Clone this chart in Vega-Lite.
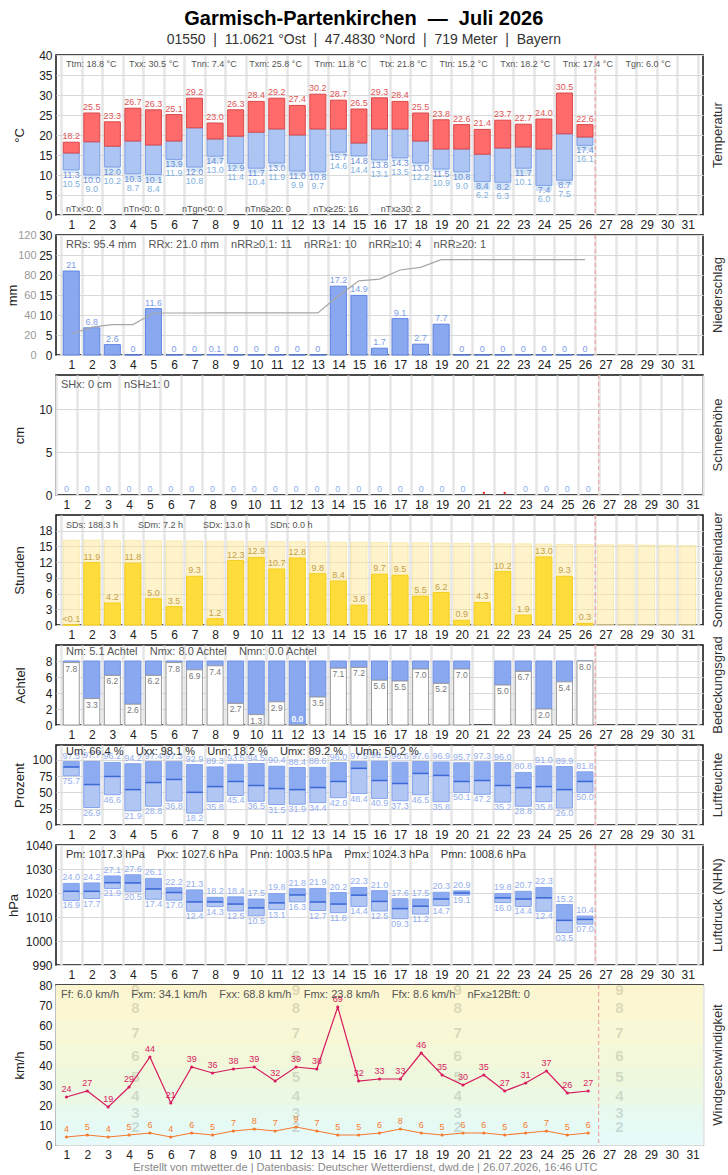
{
  "$schema": "https://vega.github.io/schema/vega-lite/v6.json",
  "background": "white",
  "padding": {"left": 5, "right": 25, "top": 9, "bottom": 5},
  "config": {
    "font": "Liberation Sans",
    "view": {"stroke": "#111", "strokeWidth": 1.5},
    "axis": {"labelFont": "Liberation Sans", "labelFontSize": 12, "labelColor": "#222", "titleFont": "Liberation Sans", "titleFontSize": 13, "titleFontWeight": "normal", "titleColor": "#222", "domain": false, "ticks": false, "labelPadding": 4, "gridColor": "#d9d9d9"},
    "concat": {"spacing": 20},
    "text": {"font": "Liberation Sans"}
  },
  "title": {
    "text": "Garmisch-Partenkirchen\u00a0 —\u00a0 Juli 2026",
    "subtitle": "01550\u00a0 |\u00a0 11.0621 °Ost\u00a0 |\u00a0 47.4830 °Nord\u00a0 |\u00a0 719 Meter\u00a0 |\u00a0 Bayern",
    "font": "Liberation Sans",
    "fontSize": 20, "fontWeight": "bold", "color": "#000",
    "subtitleFont": "Liberation Sans",
    "subtitleFontSize": 14, "subtitleColor": "#333", "subtitlePadding": 4,
    "anchor": "middle", "offset": 1, "dx": -2
  },
  "datasets": {
    "days": [
      {"d": 1, "tx": 18.2, "tm": 15.5, "tn": 11.3, "tgn": 10.5, "rr": 21.0, "rrsum": 21.0, "sh": 0, "sd": 0.0, "n": 7.8, "uxx": 97.5, "um": 89.2, "unn": 75.7, "pxx": 1024.0, "pm": 1020.7, "pnn": 1016.9, "fx": 24, "ff": 4},
      {"d": 2, "tx": 25.5, "tm": 18.3, "tn": 10.0, "tgn": 9.0, "rr": 6.8, "rrsum": 27.8, "sh": 0, "sd": 11.9, "n": 3.3, "uxx": 97.7, "um": 62.2, "unn": 26.9, "pxx": 1024.2, "pm": 1020.7, "pnn": 1017.7, "fx": 27, "ff": 5},
      {"d": 3, "tx": 23.3, "tm": 17.2, "tn": 12.0, "tgn": 10.2, "rr": 2.6, "rrsum": 30.4, "sh": 0, "sd": 4.2, "n": 6.2, "uxx": 96.2, "um": 74.6, "unn": 46.6, "pxx": 1027.1, "pm": 1024.3, "pnn": 1021.9, "fx": 19, "ff": 4},
      {"d": 4, "tx": 26.7, "tm": 18.5, "tn": 10.3, "tgn": 8.7, "rr": 0, "rrsum": 30.4, "sh": 0, "sd": 11.8, "n": 2.6, "uxx": 94.2, "um": 54.4, "unn": 21.9, "pxx": 1027.6, "pm": 1024.2, "pnn": 1020.5, "fx": 29, "ff": 5},
      {"d": 5, "tx": 26.3, "tm": 17.5, "tn": 10.1, "tgn": 8.4, "rr": 11.6, "rrsum": 42.0, "sh": 0, "sd": 5.0, "n": 6.2, "uxx": 97.4, "um": 65.3, "unn": 28.8, "pxx": 1026.1, "pm": 1021.7, "pnn": 1017.4, "fx": 44, "ff": 6},
      {"d": 6, "tx": 25.1, "tm": 18.5, "tn": 13.9, "tgn": 11.9, "rr": 0, "rrsum": 42.0, "sh": 0, "sd": 3.5, "n": 7.8, "uxx": 97.3, "um": 70.0, "unn": 36.8, "pxx": 1022.2, "pm": 1020.2, "pnn": 1017.0, "fx": 21, "ff": 4},
      {"d": 7, "tx": 29.2, "tm": 21.8, "tn": 12.0, "tgn": 10.8, "rr": 0, "rrsum": 42.0, "sh": 0, "sd": 9.3, "n": 6.9, "uxx": 92.9, "um": 50.2, "unn": 18.2, "pxx": 1021.3, "pm": 1016.3, "pnn": 1012.4, "fx": 39, "ff": 6},
      {"d": 8, "tx": 23.0, "tm": 19.0, "tn": 14.7, "tgn": 13.0, "rr": 0.1, "rrsum": 42.1, "sh": 0, "sd": 1.2, "n": 7.4, "uxx": 89.3, "um": 59.1, "unn": 35.8, "pxx": 1018.2, "pm": 1016.3, "pnn": 1014.3, "fx": 36, "ff": 5},
      {"d": 9, "tx": 26.3, "tm": 19.7, "tn": 12.9, "tgn": 11.4, "rr": 0, "rrsum": 42.1, "sh": 0, "sd": 12.3, "n": 2.7, "uxx": 93.5, "um": 66.9, "unn": 45.4, "pxx": 1018.4, "pm": 1015.4, "pnn": 1012.5, "fx": 38, "ff": 7},
      {"d": 10, "tx": 28.4, "tm": 20.7, "tn": 11.7, "tgn": 10.4, "rr": 0, "rrsum": 42.1, "sh": 0, "sd": 12.9, "n": 1.3, "uxx": 94.5, "um": 60.7, "unn": 36.5, "pxx": 1017.5, "pm": 1013.8, "pnn": 1010.5, "fx": 39, "ff": 8},
      {"d": 11, "tx": 29.2, "tm": 21.5, "tn": 13.0, "tgn": 11.9, "rr": 0, "rrsum": 42.1, "sh": 0, "sd": 10.7, "n": 2.9, "uxx": 90.4, "um": 56.0, "unn": 31.5, "pxx": 1019.8, "pm": 1015.9, "pnn": 1013.1, "fx": 32, "ff": 7},
      {"d": 12, "tx": 27.4, "tm": 20.0, "tn": 11.0, "tgn": 9.9, "rr": 0, "rrsum": 42.1, "sh": 0, "sd": 12.8, "n": 0.0, "uxx": 88.4, "um": 54.4, "unn": 31.9, "pxx": 1021.8, "pm": 1019.2, "pnn": 1016.3, "fx": 39, "ff": 9},
      {"d": 13, "tx": 30.2, "tm": 21.5, "tn": 10.8, "tgn": 9.7, "rr": 0, "rrsum": 42.1, "sh": 0, "sd": 9.8, "n": 3.5, "uxx": 88.6, "um": 57.5, "unn": 34.4, "pxx": 1021.9, "pm": 1016.3, "pnn": 1012.7, "fx": 38, "ff": 7},
      {"d": 14, "tx": 28.7, "tm": 21.5, "tn": 15.7, "tgn": 14.6, "rr": 17.2, "rrsum": 59.3, "sh": 0, "sd": 8.4, "n": 7.1, "uxx": 96.0, "um": 66.9, "unn": 42.0, "pxx": 1020.2, "pm": 1015.4, "pnn": 1011.8, "fx": 69, "ff": 5},
      {"d": 15, "tx": 26.5, "tm": 18.0, "tn": 14.8, "tgn": 14.4, "rr": 14.9, "rrsum": 74.2, "sh": 0, "sd": 3.8, "n": 7.2, "uxx": 97.5, "um": 87.1, "unn": 48.4, "pxx": 1022.3, "pm": 1019.1, "pnn": 1014.4, "fx": 32, "ff": 5},
      {"d": 16, "tx": 29.3, "tm": 21.5, "tn": 13.8, "tgn": 13.1, "rr": 1.7, "rrsum": 75.9, "sh": 0, "sd": 9.7, "n": 5.6, "uxx": 98.1, "um": 68.4, "unn": 40.9, "pxx": 1021.0, "pm": 1016.5, "pnn": 1012.5, "fx": 33, "ff": 6},
      {"d": 17, "tx": 28.4, "tm": 21.5, "tn": 14.3, "tgn": 13.5, "rr": 9.1, "rrsum": 85.0, "sh": 0, "sd": 9.5, "n": 5.5, "uxx": 96.6, "um": 63.8, "unn": 37.3, "pxx": 1017.6, "pm": 1013.5, "pnn": 1009.3, "fx": 33, "ff": 8},
      {"d": 18, "tx": 25.5, "tm": 18.5, "tn": 13.0, "tgn": 12.2, "rr": 2.7, "rrsum": 87.7, "sh": 0, "sd": 5.5, "n": 7.0, "uxx": 97.6, "um": 79.3, "unn": 46.5, "pxx": 1017.5, "pm": 1014.5, "pnn": 1011.2, "fx": 46, "ff": 6},
      {"d": 19, "tx": 23.8, "tm": 16.5, "tn": 11.5, "tgn": 10.9, "rr": 7.7, "rrsum": 95.4, "sh": 0, "sd": 6.2, "n": 5.2, "uxx": 96.9, "um": 76.2, "unn": 35.8, "pxx": 1020.3, "pm": 1017.5, "pnn": 1014.7, "fx": 35, "ff": 5},
      {"d": 20, "tx": 22.6, "tm": 16.5, "tn": 10.8, "tgn": 9.0, "rr": 0, "rrsum": 95.4, "sh": 0, "sd": 0.9, "n": 7.0, "uxx": 95.7, "um": 66.9, "unn": 50.1, "pxx": 1020.9, "pm": 1020.0, "pnn": 1019.1, "fx": 30, "ff": 6},
      {"d": 21, "tx": 21.4, "tm": 15.2, "tn": 8.4, "tgn": 6.2, "rr": 0, "rrsum": 95.4, "sh": null, "sd": 4.3, "n": null, "uxx": 97.3, "um": 68.4, "unn": 47.2, "pxx": null, "pm": null, "pnn": null, "fx": 35, "ff": 6},
      {"d": 22, "tx": 23.7, "tm": 16.75, "tn": 8.2, "tgn": 6.3, "rr": 0, "rrsum": 95.4, "sh": null, "sd": 10.2, "n": 5.0, "uxx": 96.0, "um": 60.7, "unn": 35.2, "pxx": 1019.8, "pm": 1018.0, "pnn": 1016.0, "fx": 27, "ff": 5},
      {"d": 23, "tx": 22.7, "tm": 17.0, "tn": 11.7, "tgn": 10.1, "rr": 0, "rrsum": 95.4, "sh": 0, "sd": 1.9, "n": 6.7, "uxx": 80.8, "um": 57.5, "unn": 28.8, "pxx": 1020.7, "pm": 1017.5, "pnn": 1014.4, "fx": 31, "ff": 6},
      {"d": 24, "tx": 24.0, "tm": 16.5, "tn": 7.4, "tgn": 6.0, "rr": 0, "rrsum": 95.4, "sh": 0, "sd": 13.0, "n": 2.0, "uxx": 91.0, "um": 59.1, "unn": 35.8, "pxx": 1022.3, "pm": 1018.0, "pnn": 1012.4, "fx": 37, "ff": 7},
      {"d": 25, "tx": 30.5, "tm": 20.3, "tn": 8.7, "tgn": 7.5, "rr": 0, "rrsum": 95.4, "sh": 0, "sd": 9.3, "n": 5.4, "uxx": 89.9, "um": 54.4, "unn": 26.0, "pxx": 1015.2, "pm": 1008.6, "pnn": 1003.5, "fx": 26, "ff": 5},
      {"d": 26, "tx": 22.6, "tm": 19.5, "tn": 17.4, "tgn": 16.1, "rr": 0, "rrsum": 95.4, "sh": 0, "sd": 0.3, "n": 8.0, "uxx": 81.8, "um": 66.9, "unn": 50.0, "pxx": 1010.4, "pm": 1009.0, "pnn": 1007.0, "fx": 27, "ff": 6}
    ],
    "sunmax": [
      {"d": 1, "smax": 16.2}, {"d": 2, "smax": 16.2}, {"d": 3, "smax": 16.15}, {"d": 4, "smax": 16.15}, {"d": 5, "smax": 16.1},
      {"d": 6, "smax": 16.05}, {"d": 7, "smax": 16.05}, {"d": 8, "smax": 16.0}, {"d": 9, "smax": 16.0}, {"d": 10, "smax": 15.95},
      {"d": 11, "smax": 15.9}, {"d": 12, "smax": 15.9}, {"d": 13, "smax": 15.85}, {"d": 14, "smax": 15.8}, {"d": 15, "smax": 15.8},
      {"d": 16, "smax": 15.75}, {"d": 17, "smax": 15.7}, {"d": 18, "smax": 15.7}, {"d": 19, "smax": 15.65}, {"d": 20, "smax": 15.6},
      {"d": 21, "smax": 15.55}, {"d": 22, "smax": 15.5}, {"d": 23, "smax": 15.5}, {"d": 24, "smax": 15.45}, {"d": 25, "smax": 15.4},
      {"d": 26, "smax": 15.35}, {"d": 27, "smax": 15.3}, {"d": 28, "smax": 15.3}, {"d": 29, "smax": 15.25}, {"d": 30, "smax": 15.2},
      {"d": 31, "smax": 15.15}
    ],
    "beaufort": [
      {"bft": 0, "lo": 0, "hi": 1, "shade": "#e6faf9"},
      {"bft": 1, "lo": 1, "hi": 6, "shade": "#e6faf9"},
      {"bft": 2, "lo": 6, "hi": 12, "shade": "#e6faf5"},
      {"bft": 3, "lo": 12, "hi": 20, "shade": "#e8faef"},
      {"bft": 4, "lo": 20, "hi": 29, "shade": "#ebf9e4"},
      {"bft": 5, "lo": 29, "hi": 39, "shade": "#eef8dd"},
      {"bft": 6, "lo": 39, "hi": 50, "shade": "#f2f8d9"},
      {"bft": 7, "lo": 50, "hi": 62, "shade": "#f8f8d6"},
      {"bft": 8, "lo": 62, "hi": 75, "shade": "#fbf7d3"},
      {"bft": 9, "lo": 75, "hi": 80, "shade": "#fcf6d0"}
    ]
  },
  "vconcat": [
    {
      "width": 647, "height": 160,
      "title": {"text": "Temperatur", "orient": "right", "angle": -90, "fontSize": 13, "fontWeight": "normal", "color": "#333", "offset": -4},
      "data": {"name": "days"},
      "encoding": {"x": {"field": "d", "type": "quantitative", "scale": {"domain": [0.5, 31.5], "nice": false, "zero": false}, "axis": {"title": null, "tickCount": 100, "labelOverlap": false, "labelFlush": false, "values": [0.5,1,1.5,2,2.5,3,3.5,4,4.5,5,5.5,6,6.5,7,7.5,8,8.5,9,9.5,10,10.5,11,11.5,12,12.5,13,13.5,14,14.5,15,15.5,16,16.5,17,17.5,18,18.5,19,19.5,20,20.5,21,21.5,22,22.5,23,23.5,24,24.5,25,25.5,26,26.5,27,27.5,28,28.5,29,29.5,30,30.5,31,31.5], "labelExpr": "datum.value % 1 === 0 ? '' + datum.value : ''", "gridColor": "#e6e6e6", "gridWidth": 2.5, "gridOpacity": {"condition": {"test": "datum.value % 1 === 0", "value": 0}, "value": 1}}}},
      "layer": [
        {"mark": {"type": "bar", "width": 16, "color": "#d3e5f6"},
         "encoding": {"y": {"field": "tgn", "type": "quantitative", "scale": {"domain": [0, 40], "nice": false, "zero": false}, "axis": {"title": "°C", "titlePadding": 12, "format": "d", "tickCount": 100, "labelOverlap": false, "values": [0,5,10,15,20,25,30,35,40]}}, "y2": {"field": "tn"}}},
        {"mark": {"type": "bar", "width": 16, "fill": "#adc5f3", "stroke": "#7d9ee6", "strokeWidth": 1},
         "encoding": {"y": {"field": "tn", "type": "quantitative"}, "y2": {"field": "tm"}}},
        {"mark": {"type": "bar", "width": 16, "fill": "#ff6b6b", "stroke": "#d94848", "strokeWidth": 1},
         "encoding": {"y": {"field": "tm", "type": "quantitative"}, "y2": {"field": "tx"}}},
        {"mark": {"type": "text", "fontSize": 9, "color": "#e05555", "baseline": "bottom", "dy": -1},
         "encoding": {"y": {"field": "tx", "type": "quantitative"}, "text": {"field": "tx", "format": ".1f"}}},
        {"mark": {"type": "text", "fontSize": 9, "color": "#6b8ed8", "baseline": "top", "dy": 1},
         "encoding": {"y": {"field": "tn", "type": "quantitative"}, "text": {"field": "tn", "format": ".1f"}}},
        {"mark": {"type": "text", "fontSize": 9, "color": "#7fb1e0", "baseline": "top", "dy": 10},
         "encoding": {"y": {"field": "tn", "type": "quantitative"}, "text": {"field": "tgn", "format": ".1f"}}},
        {"data": {"values": [{"label": "Ttm: 18.8 °C\u00a0\u00a0\u00a0\u00a0\u00a0Txx: 30.5 °C\u00a0\u00a0\u00a0\u00a0\u00a0Tnn: 7.4 °C\u00a0\u00a0\u00a0\u00a0\u00a0Txm: 25.8 °C\u00a0\u00a0\u00a0\u00a0\u00a0Tnm: 11.8 °C\u00a0\u00a0\u00a0\u00a0\u00a0Ttx: 21.8 °C\u00a0\u00a0\u00a0\u00a0\u00a0Ttn: 15.2 °C\u00a0\u00a0\u00a0\u00a0\u00a0Txn: 18.2 °C\u00a0\u00a0\u00a0\u00a0\u00a0Tnx: 17.4 °C\u00a0\u00a0\u00a0\u00a0\u00a0Tgn: 6.0 °C"}]},
         "transform": [{"calculate": "0.5", "as": "xp"}, {"calculate": "37.7", "as": "yp"}],
         "mark": {"type": "text", "fontSize": 9, "color": "#555", "align": "left", "baseline": "middle", "dx": 5},
         "encoding": {"x": {"field": "xp"}, "y": {"field": "yp", "type": "quantitative"}, "text": {"field": "label"}}},
        {"data": {"values": [{"label": "nTx<0: 0\u00a0\u00a0\u00a0\u00a0\u00a0\u00a0\u00a0\u00a0\u00a0nTn<0: 0\u00a0\u00a0\u00a0\u00a0\u00a0\u00a0\u00a0\u00a0\u00a0nTgn<0: 0\u00a0\u00a0\u00a0\u00a0\u00a0\u00a0\u00a0\u00a0\u00a0nTn6≥20: 0\u00a0\u00a0\u00a0\u00a0\u00a0\u00a0\u00a0\u00a0\u00a0nTx≥25: 16\u00a0\u00a0\u00a0\u00a0\u00a0\u00a0\u00a0\u00a0\u00a0nTx≥30: 2"}]},
         "transform": [{"calculate": "0.5", "as": "xp"}, {"calculate": "1.6", "as": "yp"}],
         "mark": {"type": "text", "fontSize": 9, "color": "#555", "align": "left", "baseline": "middle", "dx": 5},
         "encoding": {"x": {"field": "xp"}, "y": {"field": "yp", "type": "quantitative"}, "text": {"field": "label"}}},
        {"data": {"values": [{"report_day": 26}]},
         "transform": [{"calculate": "datum.report_day + 0.5", "as": "xp"}],
         "mark": {"type": "rule", "color": "#f2a5a5", "strokeDash": [4, 3], "strokeWidth": 1.2},
         "encoding": {"x": {"field": "xp"}}}
      ]
    },
    {
      "width": 647, "height": 120,
      "title": {"text": "Niederschlag", "orient": "right", "angle": -90, "fontSize": 13, "fontWeight": "normal", "color": "#333", "offset": -4},
      "data": {"name": "days"},
      "encoding": {"x": {"field": "d", "type": "quantitative", "scale": {"domain": [0.5, 31.5], "nice": false, "zero": false}, "axis": {"title": null, "tickCount": 100, "labelOverlap": false, "labelFlush": false, "values": [0.5,1,1.5,2,2.5,3,3.5,4,4.5,5,5.5,6,6.5,7,7.5,8,8.5,9,9.5,10,10.5,11,11.5,12,12.5,13,13.5,14,14.5,15,15.5,16,16.5,17,17.5,18,18.5,19,19.5,20,20.5,21,21.5,22,22.5,23,23.5,24,24.5,25,25.5,26,26.5,27,27.5,28,28.5,29,29.5,30,30.5,31,31.5], "labelExpr": "datum.value % 1 === 0 ? '' + datum.value : ''", "gridColor": "#e6e6e6", "gridWidth": 2.5, "gridOpacity": {"condition": {"test": "datum.value % 1 === 0", "value": 0}, "value": 1}}}},
      "layer": [
        {"layer": [
          {"mark": {"type": "bar", "width": 16, "fill": "#8aa8ef", "stroke": "#5f85e3", "strokeWidth": 1},
           "encoding": {"y": {"field": "rr", "type": "quantitative", "scale": {"domain": [0, 30], "nice": false}, "axis": {"title": null, "format": "d", "tickCount": 100, "labelOverlap": false, "values": [0,5,10,15,20,25,30]}}}},
          {"mark": {"type": "text", "fontSize": 9, "color": "#7d9ce8", "baseline": "bottom", "dy": -1},
           "encoding": {"y": {"field": "rr", "type": "quantitative"}, "text": {"field": "rr", "format": ".1~f"}}},
          {"data": {"values": [{"label": "RRs: 95.4 mm\u00a0\u00a0\u00a0\u00a0RRx: 21.0 mm\u00a0\u00a0\u00a0\u00a0nRR≥0.1: 11\u00a0\u00a0\u00a0\u00a0nRR≥1: 10\u00a0\u00a0\u00a0\u00a0nRR≥10: 4\u00a0\u00a0\u00a0\u00a0nRR≥20: 1"}]},
           "transform": [{"calculate": "0.5", "as": "xp"}, {"calculate": "27.5", "as": "yp"}],
           "mark": {"type": "text", "fontSize": 11, "color": "#555", "align": "left", "baseline": "middle", "dx": 5},
           "encoding": {"x": {"field": "xp"}, "y": {"field": "yp", "type": "quantitative"}, "text": {"field": "label"}}},
          {"data": {"values": [{"report_day": 26}]},
           "transform": [{"calculate": "datum.report_day + 0.5", "as": "xp"}],
           "mark": {"type": "rule", "color": "#f2a5a5", "strokeDash": [4, 3], "strokeWidth": 1.2},
           "encoding": {"x": {"field": "xp"}}}
        ]},
        {"mark": {"type": "line", "color": "#a6a6a6", "strokeWidth": 1.2},
         "encoding": {"y": {"field": "rrsum", "type": "quantitative", "scale": {"domain": [0, 120], "nice": false}, "axis": {"orient": "left", "offset": 16, "format": "d", "tickCount": 100, "labelOverlap": false, "values": [0,20,40,60,80,100,120], "labelColor": "#999", "labelFontSize": 11, "grid": false, "title": "mm", "titlePadding": -2}}}}
      ],
      "resolve": {"scale": {"y": "independent"}}
    },
    {
      "width": 647, "height": 120,
      "title": {"text": "Schneehöhe", "orient": "right", "angle": -90, "fontSize": 13, "fontWeight": "normal", "color": "#333", "offset": -4},
      "data": {"name": "days"},
      "encoding": {"x": {"field": "d", "type": "quantitative", "scale": {"domain": [0.5, 31.5], "nice": false, "zero": false}, "axis": {"title": null, "tickCount": 100, "labelOverlap": false, "labelFlush": false, "values": [0.5,1,1.5,2,2.5,3,3.5,4,4.5,5,5.5,6,6.5,7,7.5,8,8.5,9,9.5,10,10.5,11,11.5,12,12.5,13,13.5,14,14.5,15,15.5,16,16.5,17,17.5,18,18.5,19,19.5,20,20.5,21,21.5,22,22.5,23,23.5,24,24.5,25,25.5,26,26.5,27,27.5,28,28.5,29,29.5,30,30.5,31,31.5], "labelExpr": "datum.value % 1 === 0 ? '' + datum.value : ''", "gridColor": "#e6e6e6", "gridWidth": 2.5, "gridOpacity": {"condition": {"test": "datum.value % 1 === 0", "value": 0}, "value": 1}}}},
      "layer": [
        {"transform": [{"filter": "isValid(datum.sh)"}],
         "mark": {"type": "text", "fontSize": 9, "color": "#8fb0ec", "baseline": "bottom", "dy": -1},
         "encoding": {"y": {"field": "sh", "type": "quantitative", "scale": {"domain": [0, 14], "nice": false}, "axis": {"title": "cm", "titlePadding": 12, "format": "d", "tickCount": 100, "labelOverlap": false, "values": [0, 5, 10]}}, "text": {"field": "sh", "format": "d"}}},
        {"transform": [{"filter": "!isValid(datum.sh)"}, {"calculate": "0.25", "as": "yp"}],
         "mark": {"type": "point", "filled": true, "color": "#e02b2b", "size": 6, "opacity": 1},
         "encoding": {"y": {"field": "yp", "type": "quantitative"}}},
        {"data": {"values": [{"label": "SHx: 0 cm\u00a0\u00a0\u00a0\u00a0nSH≥1: 0"}]},
         "transform": [{"calculate": "0.5", "as": "xp"}, {"calculate": "12.85", "as": "yp"}],
         "mark": {"type": "text", "fontSize": 11, "color": "#555", "align": "left", "baseline": "middle", "dx": 5},
         "encoding": {"x": {"field": "xp"}, "y": {"field": "yp", "type": "quantitative"}, "text": {"field": "label"}}},
        {"data": {"values": [{"report_day": 26}]},
         "transform": [{"calculate": "datum.report_day + 0.5", "as": "xp"}],
         "mark": {"type": "rule", "color": "#f2a5a5", "strokeDash": [4, 3], "strokeWidth": 1.2},
         "encoding": {"x": {"field": "xp"}}}
      ]
    },
    {
      "width": 647, "height": 110,
      "title": {"text": "Sonnenscheindauer", "orient": "right", "angle": -90, "fontSize": 13, "fontWeight": "normal", "color": "#333", "offset": -4},
      "data": {"name": "days"},
      "encoding": {"x": {"field": "d", "type": "quantitative", "scale": {"domain": [0.5, 31.5], "nice": false, "zero": false}, "axis": {"title": null, "tickCount": 100, "labelOverlap": false, "labelFlush": false, "values": [0.5,1,1.5,2,2.5,3,3.5,4,4.5,5,5.5,6,6.5,7,7.5,8,8.5,9,9.5,10,10.5,11,11.5,12,12.5,13,13.5,14,14.5,15,15.5,16,16.5,17,17.5,18,18.5,19,19.5,20,20.5,21,21.5,22,22.5,23,23.5,24,24.5,25,25.5,26,26.5,27,27.5,28,28.5,29,29.5,30,30.5,31,31.5], "labelExpr": "datum.value % 1 === 0 ? '' + datum.value : ''", "gridColor": "#e6e6e6", "gridWidth": 2.5, "gridOpacity": {"condition": {"test": "datum.value % 1 === 0", "value": 0}, "value": 1}}}},
      "layer": [
        {"data": {"name": "sunmax"},
         "mark": {"type": "bar", "width": 16, "fill": "#fdeaa0", "fillOpacity": 0.55, "stroke": "#f7df8a", "strokeOpacity": 0.6, "strokeWidth": 1},
         "encoding": {"y": {"field": "smax", "type": "quantitative", "scale": {"domain": [0, 21], "nice": false}, "axis": {"title": "Stunden", "titlePadding": 12, "format": "d", "tickCount": 100, "labelOverlap": false, "values": [0,3,6,9,12,15,18]}}}},
        {"mark": {"type": "bar", "width": 16, "fill": "#fedc3c", "stroke": "#f6cf1f", "strokeWidth": 1},
         "encoding": {"y": {"field": "sd", "type": "quantitative"}}},
        {"mark": {"type": "text", "fontSize": 9, "color": "#c4a048", "baseline": "bottom", "dy": -1},
         "encoding": {"y": {"field": "sd", "type": "quantitative"}, "text": {"condition": {"test": "datum.sd < 0.1", "value": "<0.1"}, "field": "sd", "format": ".1f"}}},
        {"data": {"values": [{"label": "SDs: 188.3 h\u00a0\u00a0\u00a0\u00a0\u00a0\u00a0\u00a0\u00a0SDm: 7.2 h\u00a0\u00a0\u00a0\u00a0\u00a0\u00a0\u00a0\u00a0SDx: 13.0 h\u00a0\u00a0\u00a0\u00a0\u00a0\u00a0\u00a0\u00a0SDn: 0.0 h"}]},
         "transform": [{"calculate": "0.5", "as": "xp"}, {"calculate": "19.1", "as": "yp"}],
         "mark": {"type": "text", "fontSize": 9, "color": "#555", "align": "left", "baseline": "middle", "dx": 5},
         "encoding": {"x": {"field": "xp"}, "y": {"field": "yp", "type": "quantitative"}, "text": {"field": "label"}}},
        {"data": {"values": [{"report_day": 26}]},
         "transform": [{"calculate": "datum.report_day + 0.5", "as": "xp"}],
         "mark": {"type": "rule", "color": "#f2a5a5", "strokeDash": [4, 3], "strokeWidth": 1.2},
         "encoding": {"x": {"field": "xp"}}}
      ]
    },
    {
      "width": 647, "height": 80,
      "title": {"text": "Bedeckungsgrad", "orient": "right", "angle": -90, "fontSize": 13, "fontWeight": "normal", "color": "#333", "offset": -4},
      "data": {"name": "days"},
      "encoding": {"x": {"field": "d", "type": "quantitative", "scale": {"domain": [0.5, 31.5], "nice": false, "zero": false}, "axis": {"title": null, "tickCount": 100, "labelOverlap": false, "labelFlush": false, "values": [0.5,1,1.5,2,2.5,3,3.5,4,4.5,5,5.5,6,6.5,7,7.5,8,8.5,9,9.5,10,10.5,11,11.5,12,12.5,13,13.5,14,14.5,15,15.5,16,16.5,17,17.5,18,18.5,19,19.5,20,20.5,21,21.5,22,22.5,23,23.5,24,24.5,25,25.5,26,26.5,27,27.5,28,28.5,29,29.5,30,30.5,31,31.5], "labelExpr": "datum.value % 1 === 0 ? '' + datum.value : ''", "gridColor": "#e6e6e6", "gridWidth": 2.5, "gridOpacity": {"condition": {"test": "datum.value % 1 === 0", "value": 0}, "value": 1}}}},
      "layer": [
        {"transform": [{"filter": "isValid(datum.n)"}, {"calculate": "8", "as": "nfull"}],
         "mark": {"type": "bar", "width": 16, "fill": "#8aa8ef", "stroke": "#6e91e6", "strokeWidth": 1},
         "encoding": {"y": {"field": "n", "type": "quantitative", "scale": {"domain": [0, 10], "nice": false}, "axis": {"title": "Achtel", "titlePadding": 18, "format": "d", "tickCount": 100, "labelOverlap": false, "values": [0,2,4,6,8]}}, "y2": {"field": "nfull"}}},
        {"transform": [{"filter": "isValid(datum.n)"}],
         "mark": {"type": "bar", "width": 16, "fill": "#ffffff", "stroke": "#9a9a9a", "strokeWidth": 1},
         "encoding": {"y": {"field": "n", "type": "quantitative"}}},
        {"transform": [{"filter": "isValid(datum.n) && datum.n > 0"}],
         "mark": {"type": "text", "fontSize": 8.5, "color": "#777", "baseline": "top", "dy": 2},
         "encoding": {"y": {"field": "n", "type": "quantitative"}, "text": {"field": "n", "format": ".1f"}}},
        {"transform": [{"filter": "isValid(datum.n) && datum.n == 0"}],
         "mark": {"type": "text", "fontSize": 8.5, "fontWeight": "bold", "color": "#ffffff", "baseline": "bottom", "dy": -1},
         "encoding": {"y": {"field": "n", "type": "quantitative"}, "text": {"field": "n", "format": ".1f"}}},
        {"data": {"values": [{"label": "Nm: 5.1 Achtel\u00a0\u00a0\u00a0\u00a0Nmx: 8.0 Achtel\u00a0\u00a0\u00a0\u00a0Nmn: 0.0 Achtel"}]},
         "transform": [{"calculate": "0.5", "as": "xp"}, {"calculate": "9.1", "as": "yp"}],
         "mark": {"type": "text", "fontSize": 11, "color": "#555", "align": "left", "baseline": "middle", "dx": 5},
         "encoding": {"x": {"field": "xp"}, "y": {"field": "yp", "type": "quantitative"}, "text": {"field": "label"}}},
        {"data": {"values": [{"report_day": 26}]},
         "transform": [{"calculate": "datum.report_day + 0.5", "as": "xp"}],
         "mark": {"type": "rule", "color": "#f2a5a5", "strokeDash": [4, 3], "strokeWidth": 1.2},
         "encoding": {"x": {"field": "xp"}}}
      ]
    },
    {
      "width": 647, "height": 80,
      "title": {"text": "Luftfeuchte", "orient": "right", "angle": -90, "fontSize": 13, "fontWeight": "normal", "color": "#333", "offset": -4},
      "data": {"name": "days"},
      "encoding": {"x": {"field": "d", "type": "quantitative", "scale": {"domain": [0.5, 31.5], "nice": false, "zero": false}, "axis": {"title": null, "tickCount": 100, "labelOverlap": false, "labelFlush": false, "values": [0.5,1,1.5,2,2.5,3,3.5,4,4.5,5,5.5,6,6.5,7,7.5,8,8.5,9,9.5,10,10.5,11,11.5,12,12.5,13,13.5,14,14.5,15,15.5,16,16.5,17,17.5,18,18.5,19,19.5,20,20.5,21,21.5,22,22.5,23,23.5,24,24.5,25,25.5,26,26.5,27,27.5,28,28.5,29,29.5,30,30.5,31,31.5], "labelExpr": "datum.value % 1 === 0 ? '' + datum.value : ''", "gridColor": "#e6e6e6", "gridWidth": 2.5, "gridOpacity": {"condition": {"test": "datum.value % 1 === 0", "value": 0}, "value": 1}}}},
      "layer": [
        {"mark": {"type": "bar", "width": 16, "fill": "#b2c6f4", "stroke": "#85a4ec", "strokeWidth": 1},
         "encoding": {"y": {"field": "unn", "type": "quantitative", "scale": {"domain": [0, 123], "nice": false}, "axis": {"title": "Prozent", "titlePadding": 5, "format": "d", "tickCount": 100, "labelOverlap": false, "values": [0,25,50,75,100]}}, "y2": {"field": "um"}}},
        {"mark": {"type": "bar", "width": 16, "fill": "#8dabf0", "stroke": "#85a4ec", "strokeWidth": 1},
         "encoding": {"y": {"field": "um", "type": "quantitative"}, "y2": {"field": "uxx"}}},
        {"mark": {"type": "tick", "orient": "horizontal", "size": 16, "thickness": 1.5, "color": "#3d69d6", "opacity": 1},
         "encoding": {"y": {"field": "um", "type": "quantitative"}}},
        {"mark": {"type": "text", "fontSize": 9, "color": "#94aeee", "baseline": "bottom", "dy": -1},
         "encoding": {"y": {"field": "uxx", "type": "quantitative"}, "text": {"field": "uxx", "format": ".1f"}}},
        {"mark": {"type": "text", "fontSize": 9, "color": "#94aeee", "baseline": "top", "dy": 1},
         "encoding": {"y": {"field": "unn", "type": "quantitative"}, "text": {"field": "unn", "format": ".1f"}}},
        {"data": {"values": [{"label": "Um: 66.4 %\u00a0\u00a0\u00a0\u00a0Uxx: 98.1 %\u00a0\u00a0\u00a0\u00a0Unn: 18.2 %\u00a0\u00a0\u00a0\u00a0Umx: 89.2 %\u00a0\u00a0\u00a0\u00a0Umn: 50.2 %"}]},
         "transform": [{"calculate": "0.5", "as": "xp"}, {"calculate": "112", "as": "yp"}],
         "mark": {"type": "text", "fontSize": 11, "color": "#333", "align": "left", "baseline": "middle", "dx": 5},
         "encoding": {"x": {"field": "xp"}, "y": {"field": "yp", "type": "quantitative"}, "text": {"field": "label"}}},
        {"data": {"values": [{"report_day": 26}]},
         "transform": [{"calculate": "datum.report_day + 0.5", "as": "xp"}],
         "mark": {"type": "rule", "color": "#f2a5a5", "strokeDash": [4, 3], "strokeWidth": 1.2},
         "encoding": {"x": {"field": "xp"}}}
      ]
    },
    {
      "width": 647, "height": 120,
      "title": {"text": "Luftdruck (NHN)", "orient": "right", "angle": -90, "fontSize": 13, "fontWeight": "normal", "color": "#333", "offset": -4},
      "data": {"name": "days"},
      "encoding": {"x": {"field": "d", "type": "quantitative", "scale": {"domain": [0.5, 31.5], "nice": false, "zero": false}, "axis": {"title": null, "tickCount": 100, "labelOverlap": false, "labelFlush": false, "values": [0.5,1,1.5,2,2.5,3,3.5,4,4.5,5,5.5,6,6.5,7,7.5,8,8.5,9,9.5,10,10.5,11,11.5,12,12.5,13,13.5,14,14.5,15,15.5,16,16.5,17,17.5,18,18.5,19,19.5,20,20.5,21,21.5,22,22.5,23,23.5,24,24.5,25,25.5,26,26.5,27,27.5,28,28.5,29,29.5,30,30.5,31,31.5], "labelExpr": "datum.value % 1 === 0 ? '' + datum.value : ''", "gridColor": "#e6e6e6", "gridWidth": 2.5, "gridOpacity": {"condition": {"test": "datum.value % 1 === 0", "value": 0}, "value": 1}}}},
      "layer": [
        {"transform": [{"filter": "isValid(datum.pm)"}],
         "mark": {"type": "bar", "width": 16, "fill": "#b2c6f4", "stroke": "#85a4ec", "strokeWidth": 1},
         "encoding": {"y": {"field": "pnn", "type": "quantitative", "scale": {"domain": [990, 1040], "nice": false, "zero": false}, "axis": {"title": "hPa", "titlePadding": 5, "format": "d", "tickCount": 100, "labelOverlap": false, "values": [990,1000,1010,1020,1030,1040]}}, "y2": {"field": "pm"}}},
        {"transform": [{"filter": "isValid(datum.pm)"}],
         "mark": {"type": "bar", "width": 16, "fill": "#8dabf0", "stroke": "#85a4ec", "strokeWidth": 1},
         "encoding": {"y": {"field": "pm", "type": "quantitative"}, "y2": {"field": "pxx"}}},
        {"transform": [{"filter": "isValid(datum.pm)"}],
         "mark": {"type": "tick", "orient": "horizontal", "size": 16, "thickness": 1.5, "color": "#3d69d6", "opacity": 1},
         "encoding": {"y": {"field": "pm", "type": "quantitative"}}},
        {"transform": [{"filter": "isValid(datum.pm)"}, {"calculate": "format(datum.pxx - 1000, '04.1f')", "as": "pxx_lbl"}],
         "mark": {"type": "text", "fontSize": 9, "color": "#94aeee", "baseline": "bottom", "dy": -1},
         "encoding": {"y": {"field": "pxx", "type": "quantitative"}, "text": {"field": "pxx_lbl"}}},
        {"transform": [{"filter": "isValid(datum.pm)"}, {"calculate": "format(datum.pnn - 1000, '04.1f')", "as": "pnn_lbl"}],
         "mark": {"type": "text", "fontSize": 9, "color": "#94aeee", "baseline": "top", "dy": 1},
         "encoding": {"y": {"field": "pnn", "type": "quantitative"}, "text": {"field": "pnn_lbl"}}},
        {"data": {"values": [{"label": "Pm: 1017.3 hPa\u00a0\u00a0\u00a0\u00a0Pxx: 1027.6 hPa\u00a0\u00a0\u00a0\u00a0Pnn: 1003.5 hPa\u00a0\u00a0\u00a0\u00a0Pmx: 1024.3 hPa\u00a0\u00a0\u00a0\u00a0Pmn: 1008.6 hPa"}]},
         "transform": [{"calculate": "0.5", "as": "xp"}, {"calculate": "1035.8", "as": "yp"}],
         "mark": {"type": "text", "fontSize": 11, "color": "#333", "align": "left", "baseline": "middle", "dx": 5},
         "encoding": {"x": {"field": "xp"}, "y": {"field": "yp", "type": "quantitative"}, "text": {"field": "label"}}},
        {"data": {"values": [{"report_day": 26}]},
         "transform": [{"calculate": "datum.report_day + 0.5", "as": "xp"}],
         "mark": {"type": "rule", "color": "#f2a5a5", "strokeDash": [4, 3], "strokeWidth": 1.2},
         "encoding": {"x": {"field": "xp"}}}
      ]
    },
    {
      "title": {"text": "Erstellt von mtwetter.de | Datenbasis: Deutscher Wetterdienst, dwd.de | 26.07.2026, 16:46 UTC", "orient": "bottom", "anchor": "middle", "fontSize": 11, "fontWeight": "normal", "color": "#888", "offset": 1, "dx": -4},
      "vconcat": [
        {
          "width": 647, "height": 160,
          "title": {"text": "Windgeschwindigkeit", "orient": "right", "angle": -90, "fontSize": 13, "fontWeight": "normal", "color": "#333", "offset": -4},
          "data": {"name": "days"},
          "encoding": {"x": {"field": "d", "type": "quantitative", "scale": {"domain": [0.5, 31.5], "nice": false, "zero": false}, "axis": {"title": null, "tickCount": 100, "labelOverlap": false, "labelFlush": false, "values": [0.5,1,1.5,2,2.5,3,3.5,4,4.5,5,5.5,6,6.5,7,7.5,8,8.5,9,9.5,10,10.5,11,11.5,12,12.5,13,13.5,14,14.5,15,15.5,16,16.5,17,17.5,18,18.5,19,19.5,20,20.5,21,21.5,22,22.5,23,23.5,24,24.5,25,25.5,26,26.5,27,27.5,28,28.5,29,29.5,30,30.5,31,31.5], "labelExpr": "datum.value % 1 === 0 ? '' + datum.value : ''", "gridColor": "#e6e6e6", "gridWidth": 2.5, "gridOpacity": {"condition": {"test": "datum.value % 1 === 0", "value": 0}, "value": 1}}}},
          "layer": [
            {"data": {"name": "beaufort"},
             "transform": [{"calculate": "0.5", "as": "xp"}, {"calculate": "31.5", "as": "xp2"}],
             "mark": {"type": "rect"},
             "encoding": {"x": {"field": "xp"}, "x2": {"field": "xp2"},
                          "y": {"field": "lo", "type": "quantitative", "scale": {"domain": [0, 80], "nice": false}, "axis": {"title": "km/h", "titlePadding": 12, "format": "d", "tickCount": 100, "labelOverlap": false, "values": [0,10,20,30,40,50,60,70,80]}}, "y2": {"field": "hi"},
                          "fill": {"field": "shade", "type": "nominal", "scale": null}}},
            {"data": {"name": "beaufort"},
             "transform": [{"filter": "datum.bft >= 2"}, {"calculate": "(datum.lo + datum.hi) / 2", "as": "mid"}],
             "layer": [
               {"transform": [{"calculate": "4.3", "as": "xp"}], "mark": {"type": "text", "fontSize": 15, "fontWeight": "bold", "color": "#000", "opacity": 0.12}, "encoding": {"x": {"field": "xp"}, "y": {"field": "mid", "type": "quantitative"}, "text": {"field": "bft"}}},
               {"transform": [{"calculate": "12.0", "as": "xp"}], "mark": {"type": "text", "fontSize": 15, "fontWeight": "bold", "color": "#000", "opacity": 0.12}, "encoding": {"x": {"field": "xp"}, "y": {"field": "mid", "type": "quantitative"}, "text": {"field": "bft"}}},
               {"transform": [{"calculate": "19.75", "as": "xp"}], "mark": {"type": "text", "fontSize": 15, "fontWeight": "bold", "color": "#000", "opacity": 0.12}, "encoding": {"x": {"field": "xp"}, "y": {"field": "mid", "type": "quantitative"}, "text": {"field": "bft"}}},
               {"transform": [{"calculate": "27.5", "as": "xp"}], "mark": {"type": "text", "fontSize": 15, "fontWeight": "bold", "color": "#000", "opacity": 0.12}, "encoding": {"x": {"field": "xp"}, "y": {"field": "mid", "type": "quantitative"}, "text": {"field": "bft"}}}
             ]},
            {"mark": {"type": "line", "color": "#d81b5f", "strokeWidth": 1.2, "point": {"filled": true, "size": 10, "color": "#d81b5f"}},
             "encoding": {"y": {"field": "fx", "type": "quantitative"}}},
            {"mark": {"type": "line", "color": "#f57a2e", "strokeWidth": 1.2, "point": {"filled": true, "size": 10, "color": "#f57a2e"}},
             "encoding": {"y": {"field": "ff", "type": "quantitative"}}},
            {"mark": {"type": "text", "fontSize": 9, "color": "#d81b5f", "baseline": "bottom", "dy": -3},
             "encoding": {"y": {"field": "fx", "type": "quantitative"}, "text": {"field": "fx"}}},
            {"mark": {"type": "text", "fontSize": 9, "color": "#f57a2e", "baseline": "bottom", "dy": -3},
             "encoding": {"y": {"field": "ff", "type": "quantitative"}, "text": {"field": "ff"}}},
            {"data": {"values": [{"label": "Ff: 6.0 km/h\u00a0\u00a0\u00a0\u00a0Fxm: 34.1 km/h\u00a0\u00a0\u00a0\u00a0Fxx: 68.8 km/h\u00a0\u00a0\u00a0\u00a0Fmx: 23.8 km/h\u00a0\u00a0\u00a0\u00a0Ffx: 8.6 km/h\u00a0\u00a0\u00a0\u00a0nFx≥12Bft: 0"}]},
             "transform": [{"calculate": "0.5", "as": "xp"}, {"calculate": "75", "as": "yp"}],
             "mark": {"type": "text", "fontSize": 11, "color": "#555", "align": "left", "baseline": "middle", "dx": 5},
             "encoding": {"x": {"field": "xp"}, "y": {"field": "yp", "type": "quantitative"}, "text": {"field": "label"}}},
            {"data": {"values": [{"report_day": 26}]},
             "transform": [{"calculate": "datum.report_day + 0.5", "as": "xp"}],
             "mark": {"type": "rule", "color": "#f2a5a5", "strokeDash": [4, 3], "strokeWidth": 1.2},
             "encoding": {"x": {"field": "xp"}}}
          ]
        }
      ]
    }
  ],
  "resolve": {"scale": {"x": "independent"}},
  "bounds": "flush"
}
